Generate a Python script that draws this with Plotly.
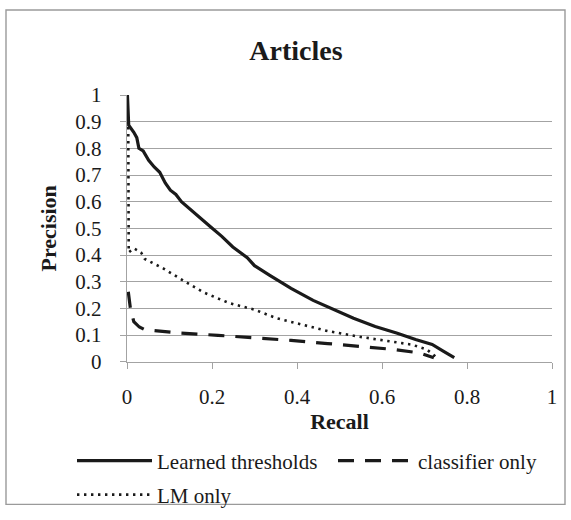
import plotly.graph_objects as go

# Learned thresholds
lt_recall = [0.001, 0.004, 0.016, 0.023, 0.028, 0.038, 0.051, 0.064, 0.077, 0.09, 0.102, 0.115,
             0.128, 0.163, 0.184, 0.197, 0.223, 0.249, 0.283, 0.30, 0.335, 0.386, 0.438, 0.49,
             0.533, 0.584, 0.636, 0.679, 0.718, 0.744, 0.77]
lt_precision = [1.0, 0.887, 0.86, 0.84, 0.80, 0.79, 0.755, 0.73, 0.71, 0.67, 0.643, 0.627,
                0.60, 0.55, 0.52, 0.505, 0.47, 0.43, 0.39, 0.36, 0.325, 0.275, 0.23, 0.195,
                0.163, 0.132, 0.107, 0.083, 0.065, 0.04, 0.015]

# classifier only
cl_recall = [0.003, 0.008, 0.016, 0.029, 0.042, 0.128, 0.214, 0.30, 0.386, 0.472, 0.558,
             0.627, 0.688, 0.722]
cl_precision = [0.262, 0.20, 0.15, 0.13, 0.12, 0.107, 0.099, 0.091, 0.08, 0.068, 0.056,
                0.046, 0.033, 0.015]

# LM only
lm_recall = [0.003, 0.003, 0.004, 0.016, 0.033, 0.042, 0.085, 0.137, 0.18, 0.24, 0.30, 0.352,
             0.412, 0.472, 0.541, 0.61, 0.67, 0.705, 0.726]
lm_precision = [0.88, 0.60, 0.41, 0.425, 0.41, 0.385, 0.35, 0.30, 0.26, 0.22, 0.195, 0.163,
                0.138, 0.115, 0.095, 0.077, 0.064, 0.046, 0.02]

x_ticks = [0, 0.2, 0.4, 0.6, 0.8, 1]
x_labels = ["0", "0.2", "0.4", "0.6", "0.8", "1"]
y_ticks = [0, 0.1, 0.2, 0.3, 0.4, 0.5, 0.6, 0.7, 0.8, 0.9, 1]
y_labels = ["0", "0.1", "0.2", "0.3", "0.4", "0.5", "0.6", "0.7", "0.8", "0.9", "1"]

FONT = "Liberation Serif, Times New Roman, serif"
INK = "#1a1a1a"
GRID = "#a3a3a3"
W, H = 571, 520

fig = go.Figure()
fig.add_trace(go.Scatter(x=lt_recall, y=lt_precision, mode="lines", name="Learned thresholds",
                         legend="legend",
                         line=dict(color=INK, width=3.2, dash="solid")))
fig.add_trace(go.Scatter(x=cl_recall, y=cl_precision, mode="lines", name="classifier only",
                         legend="legend2",
                         line=dict(color=INK, width=3.2, dash="16px,11px")))
fig.add_trace(go.Scatter(x=lm_recall, y=lm_precision, mode="lines", name="LM only",
                         legend="legend3",
                         line=dict(color=INK, width=2.6, dash="2.4px,4.6px")))

leg_common = dict(orientation="h", xref="container", yref="container", xanchor="left",
                  yanchor="middle", font=dict(family=FONT, size=21, color=INK),
                  itemwidth=75, bgcolor="rgba(0,0,0,0)", borderwidth=0)

fig.update_layout(
    width=W, height=H,
    margin=dict(l=127, r=19, t=95, b=152),
    paper_bgcolor="white", plot_bgcolor="white",
    font=dict(family=FONT, color=INK, size=21),
    title=dict(text="<b>Articles</b>", xref="container", x=296 / W, xanchor="center",
               yref="container", y=1 - 50 / H, yanchor="middle",
               font=dict(family=FONT, size=28, color=INK)),
    showlegend=True,
    legend=dict(x=72 / W, y=1 - 461 / H, **leg_common),
    legend2=dict(x=333 / W, y=1 - 461 / H, **leg_common),
    legend3=dict(x=72 / W, y=1 - 495 / H, **leg_common),
    xaxis=dict(range=[0, 1], tickvals=x_ticks, ticktext=x_labels, showgrid=False,
               showline=True, linecolor=GRID, linewidth=1.4, ticks="outside", ticklen=6,
               tickcolor=GRID, tickwidth=1.4, zeroline=False, ticklabelstandoff=10,
               tickfont=dict(family=FONT, size=21, color=INK),
               title=dict(text="<b>Recall</b>", font=dict(family=FONT, size=22, color=INK), standoff=4)),
    yaxis=dict(range=[0, 1], tickvals=y_ticks, ticktext=y_labels, showgrid=True,
               gridcolor=GRID, gridwidth=1.4, showline=True, linecolor=GRID, linewidth=1.4,
               ticks="outside", ticklen=6, tickcolor=GRID, tickwidth=1.4, zeroline=False,
               ticklabelstandoff=14,
               tickfont=dict(family=FONT, size=21, color=INK),
               title=dict(text="<b>Precision</b>", font=dict(family=FONT, size=22, color=INK), standoff=12)),
    shapes=[dict(type="rect", xref="paper", yref="paper",
                 x0=(6 - 127) / 425, x1=(565 - 127) / 425,
                 y0=(368 - 514) / 273, y1=(368 - 8) / 273,
                 line=dict(color="#9a9a9a", width=1.4), fillcolor="rgba(0,0,0,0)", layer="below")],
)

fig.write_html("out.html", config={"displayModeBar": False},
               post_script="document.body.style.margin='0';")
